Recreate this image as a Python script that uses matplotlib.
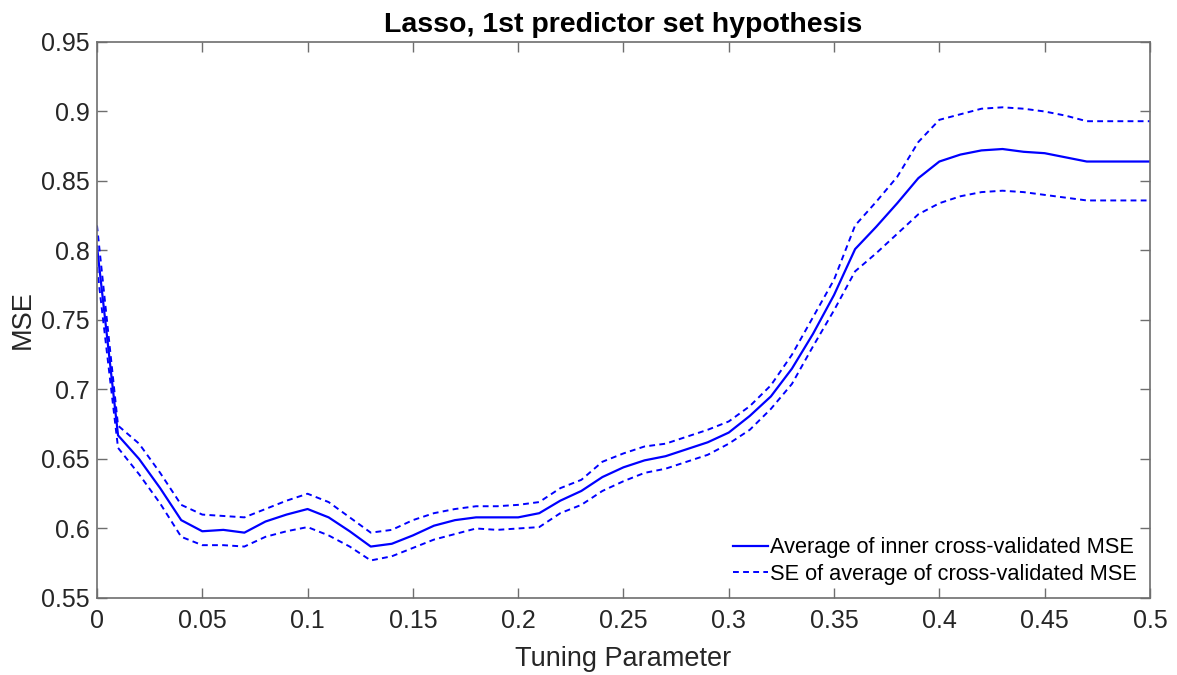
import numpy as np
import matplotlib.pyplot as plt

plt.rcParams['font.family'] = ['Liberation Sans', 'DejaVu Sans']

# tuning parameter grid (lambda)
lam = np.round(np.arange(0, 0.501, 0.01), 2)

# average of inner cross-validated MSE
mse_avg = [0.803, 0.667, 0.650, 0.629, 0.606, 0.598, 0.599, 0.597, 0.605, 0.610,
           0.614, 0.608, 0.598, 0.587, 0.589, 0.595, 0.602, 0.606, 0.608, 0.608,
           0.608, 0.611, 0.620, 0.627, 0.637, 0.644, 0.649, 0.652, 0.657, 0.662,
           0.669, 0.681, 0.695, 0.715, 0.740, 0.768, 0.801, 0.817, 0.834, 0.852,
           0.864, 0.869, 0.872, 0.873, 0.871, 0.870, 0.867, 0.864, 0.864, 0.864,
           0.864]

# upper / lower standard error band
se_upper = [0.818, 0.674, 0.661, 0.640, 0.617, 0.610, 0.609, 0.608, 0.614, 0.620,
            0.625, 0.619, 0.608, 0.597, 0.599, 0.606, 0.611, 0.614, 0.616, 0.616,
            0.617, 0.619, 0.629, 0.635, 0.648, 0.654, 0.659, 0.661, 0.666, 0.671,
            0.677, 0.688, 0.703, 0.725, 0.752, 0.779, 0.818, 0.835, 0.853, 0.878,
            0.894, 0.898, 0.902, 0.903, 0.902, 0.900, 0.897, 0.893, 0.893, 0.893,
            0.893]
se_lower = [0.788, 0.658, 0.639, 0.618, 0.594, 0.588, 0.588, 0.587, 0.594, 0.598,
            0.601, 0.595, 0.587, 0.577, 0.580, 0.586, 0.592, 0.596, 0.600, 0.599,
            0.600, 0.601, 0.611, 0.617, 0.627, 0.634, 0.640, 0.643, 0.648, 0.653,
            0.661, 0.671, 0.686, 0.704, 0.731, 0.757, 0.785, 0.798, 0.812, 0.826,
            0.834, 0.839, 0.842, 0.843, 0.842, 0.840, 0.838, 0.836, 0.836, 0.836,
            0.836]

fig = plt.figure(figsize=(11.77, 6.75), dpi=100)
ax = fig.add_axes([0.0824, 0.1141, 0.8946, 0.8237])

ax.plot(lam, mse_avg, color='b', lw=1.6, label='Average of inner cross-validated MSE')
ax.plot(lam, se_upper, color='b', lw=1.4, ls='--', dashes=(3, 2.2),
        label='SE of average of cross-validated MSE')
ax.plot(lam, se_lower, color='b', lw=1.4, ls='--', dashes=(3, 2.2))

ax.set_xlim(0, 0.5)
ax.set_ylim(0.55, 0.95)
ax.set_xticks(np.arange(0, 0.501, 0.05))
ax.set_xticklabels(['0', '0.05', '0.1', '0.15', '0.2', '0.25', '0.3', '0.35', '0.4', '0.45', '0.5'])
ax.set_yticks(np.arange(0.55, 0.951, 0.05))
ax.set_yticklabels(['0.55', '0.6', '0.65', '0.7', '0.75', '0.8', '0.85', '0.9', '0.95'])

gray = '#262626'
for s in ax.spines.values():
    s.set_color('#6e6e6e')
    s.set_linewidth(1.2)
ax.tick_params(direction='in', length=7, width=1, colors='#6e6e6e',
               labelcolor=gray, labelsize=18, top=True, right=True, pad=5)
ax.tick_params(axis='x', pad=8)

ax.set_xlabel('Tuning Parameter', fontsize=19.5, color=gray, labelpad=9)
ax.set_ylabel('MSE', fontsize=19.5, color=gray, labelpad=4)
ax.set_title('Lasso, 1st predictor set hypothesis', fontsize=20.5, fontweight='bold', pad=7)

ax.legend(loc='lower right', frameon=False, fontsize=15.7, handlelength=1.6,
          handletextpad=0.1, borderaxespad=0.2, labelspacing=0.25)

fig.savefig('out.png', dpi=100)
